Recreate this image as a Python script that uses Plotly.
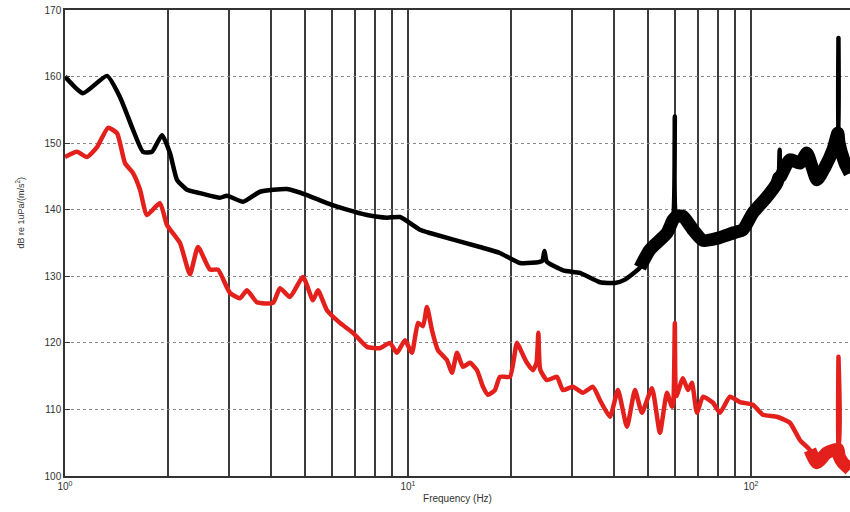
import math
import plotly.graph_objects as go

# ---- data ----
black_freq = [1.00, 1.128, 1.326, 1.447, 1.579, 1.688, 1.793, 1.918, 2.024, 2.121, 2.269,
              2.475, 2.830, 2.967, 3.304, 3.703, 4.440, 5.077, 5.805, 6.641, 7.596, 8.686,
              9.478, 10.84, 11.59, 16.21, 18.54, 21.21, 24.6, 25.0, 25.4, 28.31, 31.73,
              36.29, 40.13, 42.93, 47.47, 50.77, 56.89, 59.3, 60.0, 60.7, 63.36, 67.76,
              72.47, 79.59, 88.6, 94.78, 101.3, 111.3, 119.1, 120.5, 121.3, 122.0, 129.9,
              139.0, 145.6, 150.6, 155.8, 164.8, 173.4, 179.3, 180.0, 180.7, 188.0, 194.4]
black_db = [160.0, 157.5, 160.1, 156.9, 152.0, 148.7, 148.7, 151.2, 148.5, 144.5, 143.0,
            142.5, 141.8, 142.1, 141.2, 142.7, 143.1, 142.2, 141.0, 140.0, 139.2, 138.8,
            138.9, 137.0, 136.5, 134.4, 133.5, 132.0, 132.3, 133.8, 132.2, 130.9, 130.5,
            129.1, 129.0, 129.5, 131.3, 134.0, 136.5, 138.5, 154.0, 139.0, 139.0, 137.0,
            135.4, 135.7, 136.5, 137.0, 139.5, 141.9, 144.0, 144.8, 149.0, 145.0, 147.5,
            147.0, 148.5, 146.5, 144.5, 146.5, 149.0, 151.5, 165.8, 150.0, 147.0, 145.5]

red_freq = [1.00, 1.084, 1.159, 1.240, 1.335, 1.418, 1.496, 1.579, 1.655, 1.734, 1.892,
            1.983, 2.164, 2.314, 2.442, 2.647, 2.793, 3.027, 3.237, 3.393, 3.629, 4.041,
            4.235, 4.529, 4.943, 5.285, 5.466, 5.805, 6.335, 6.913, 7.596, 8.288, 8.860,
            9.289, 9.801, 10.27, 10.70, 11.06, 11.36, 11.75, 12.23, 12.99, 13.44, 13.90,
            14.47, 15.16, 15.89, 16.55, 17.11, 17.93, 18.54, 19.83, 20.79, 21.50, 22.23,
            23.14, 23.7, 24.0, 24.3, 25.42, 27.19, 28.31, 30.27, 32.37, 34.63, 36.29,
            38.81, 40.95, 43.51, 45.91, 48.11, 51.46, 54.29, 56.89, 58.84, 59.4, 60.0,
            60.6, 63.36, 65.52, 67.30, 69.60, 72.47, 77.50, 81.22, 86.86, 92.88, 101.3,
            108.4, 119.1, 129.9, 139.0, 148.6, 155.8, 166.6, 179.3, 180.0, 180.7, 185.4,
            194.4]
red_db = [147.9, 148.7, 147.9, 149.4, 152.3, 151.5, 147.0, 145.5, 143.0, 139.2, 141.0,
          137.7, 135.0, 130.3, 134.4, 131.0, 131.0, 127.5, 126.7, 127.9, 126.1, 126.0,
          128.2, 126.9, 129.9, 126.4, 127.9, 124.9, 123.0, 121.5, 119.4, 119.2, 120.0,
          118.5, 120.4, 118.5, 123.0, 122.5, 125.4, 121.9, 118.9, 117.4, 115.5, 118.5,
          116.4, 117.0, 115.9, 113.4, 112.2, 112.9, 114.9, 114.9, 120.0, 118.5, 117.0,
          115.9, 117.0, 121.5, 116.0, 114.4, 114.9, 112.9, 113.4, 112.5, 113.4, 111.4,
          108.9, 112.9, 107.4, 112.9, 109.5, 113.2, 106.5, 112.5, 110.4, 111.0, 123.0,
          112.0, 114.7, 112.9, 114.0, 109.5, 111.9, 111.0, 109.5, 111.9, 111.1, 110.7,
          109.2, 108.9, 108.0, 105.4, 103.9, 102.0, 103.5, 104.0, 117.9, 103.0, 102.0,
          101.0]

# spikes (narrow lines) excluded from the wide "noise band" traces
black_spikes = [25.0, 60.0, 121.3, 180.0]
red_spikes = [24.0, 60.0, 180.0]
black_band_start = 45.0
red_band_start = 140.0

y_ticks = [100, 110, 120, 130, 140, 150, 160, 170]
x_ticks = [1, 10, 100]
x_ticktext = ["10<sup>0</sup>", "10<sup>1</sup>", "10<sup>2</sup>"]

BLACK = "#000000"
RED = "#e3201c"


def band(freq, db, start, spikes):
    f2, d2 = [], []
    for f, d in zip(freq, db):
        if f >= start and f not in spikes:
            f2.append(f)
            d2.append(d)
    return f2, d2


fig = go.Figure()

bf, bd = band(black_freq, black_db, black_band_start, black_spikes)
rf, rd = band(red_freq, red_db, red_band_start, red_spikes)

fig.add_trace(go.Scatter(x=bf, y=bd, mode="lines",
                         line=dict(color=BLACK, width=13, shape="spline", smoothing=0.6),
                         showlegend=False, hoverinfo="skip"))
fig.add_trace(go.Scatter(x=black_freq, y=black_db, mode="lines",
                         line=dict(color=BLACK, width=4.5, shape="spline", smoothing=0.5),
                         showlegend=False))
fig.add_trace(go.Scatter(x=rf, y=rd, mode="lines",
                         line=dict(color=RED, width=13, shape="spline", smoothing=0.6),
                         showlegend=False, hoverinfo="skip"))
fig.add_trace(go.Scatter(x=red_freq, y=red_db, mode="lines",
                         line=dict(color=RED, width=4.5, shape="spline", smoothing=0.5),
                         showlegend=False))

fig.update_layout(
    width=850, height=512,
    margin=dict(l=65, r=0, t=10, b=36),
    paper_bgcolor="white", plot_bgcolor="white",
    font=dict(family="Liberation Sans, Arial, sans-serif", size=10, color="#333333"),
    xaxis=dict(
        type="log", range=[0, math.log10(194.5)],
        tickmode="array", tickvals=x_ticks, ticktext=x_ticktext,
        showgrid=True, gridcolor="#3c3c3c", gridwidth=1.8,
        minor=dict(dtick="D1", showgrid=True, gridcolor="#3c3c3c", gridwidth=1.8,
                   ticks=""),
        showline=True, linecolor="#333333", linewidth=1.5, mirror=True,
        ticks="", zeroline=False,
        title=dict(text="Frequency (Hz)", font=dict(size=10), standoff=4),
    ),
    yaxis=dict(
        range=[100, 170], tickmode="array", tickvals=y_ticks,
        showgrid=True, gridcolor="#8a8a8a", gridwidth=1, griddash="dot",
        showline=True, linecolor="#333333", linewidth=1.5,
        ticks="inside", ticklen=5, tickcolor="#333333",
        zeroline=False,
    ),
    annotations=[dict(
        text="dB re 1uPa/(m/s<sup>2</sup>)", textangle=-90,
        xref="paper", yref="paper", x=-0.057, y=0.566,
        showarrow=False, font=dict(size=9, color="#333333"),
        xanchor="center", yanchor="middle",
    )],
)

fig.write_html("out.html")
